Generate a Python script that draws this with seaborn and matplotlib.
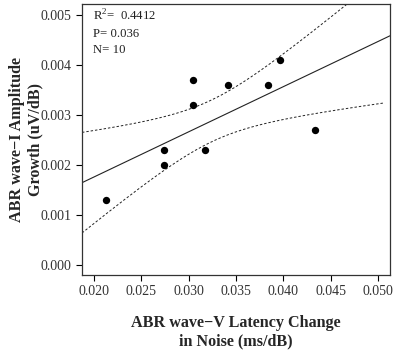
import numpy as np
import pandas as pd
import matplotlib
matplotlib.use("Agg")
import matplotlib.pyplot as plt
import seaborn as sns

latency_change = [0.02127, 0.02739, 0.02739, 0.03045, 0.03045, 0.03168, 0.03414, 0.0384, 0.03963, 0.04332]
amp_growth = [0.0013, 0.0023, 0.0020, 0.0037, 0.0032, 0.0023, 0.0036, 0.0036, 0.0041, 0.0027]
x_ticks = [0.020, 0.025, 0.030, 0.035, 0.040, 0.045, 0.050]
y_ticks = [0.000, 0.001, 0.002, 0.003, 0.004, 0.005]
stats_text = "R$^2$=  0.4412\nP= 0.036\nN= 10"

sns.set_style("ticks")
plt.rcParams['font.family'] = ['Liberation Serif', 'DejaVu Serif']
plt.rcParams['mathtext.fontset'] = 'custom'
plt.rcParams['mathtext.rm'] = 'Liberation Serif'

df = pd.DataFrame({"x": latency_change, "y": amp_growth})

fig = plt.figure(figsize=(3.93, 3.51), dpi=100)
ax = fig.add_axes([0.2087, 0.2165, 0.7837, 0.7721])

xlim = (0.01873, 0.05125)
ylim = (-0.000206, 0.00522)
ax.set_xlim(*xlim)
ax.set_ylim(*ylim)

sns.regplot(data=df, x="x", y="y", ax=ax, ci=None, truncate=False,
            scatter_kws=dict(s=28, color="black", linewidths=0, alpha=1, zorder=3),
            line_kws=dict(color="#222222", lw=0.8))

# 90% confidence band for the mean, drawn dashed
x = np.asarray(latency_change)
y = np.asarray(amp_growth)
n = len(x)
b1, b0 = np.polyfit(x, y, 1)
resid = y - (b0 + b1 * x)
s = np.sqrt(np.sum(resid ** 2) / (n - 2))
sxx = np.sum((x - x.mean()) ** 2)
t = 1.860
xs = np.linspace(xlim[0], 0.0505, 200)
half = t * s * np.sqrt(1 / n + (xs - x.mean()) ** 2 / sxx)
yhat = b0 + b1 * xs
ax.plot(xs, yhat + half, ls=(0, (2.5, 2)), color="#222222", lw=0.7)
ax.plot(xs, yhat - half, ls=(0, (2.5, 2)), color="#222222", lw=0.7)

ax.set_xlim(*xlim)
ax.set_ylim(*ylim)
ax.set_xticks(x_ticks)
ax.set_xticklabels([f"{v:.3f}" for v in x_ticks])
ax.set_yticks(y_ticks)
ax.set_yticklabels([f"{v:.3f}" for v in y_ticks])
ax.tick_params(labelsize=10, length=4, width=0.8, color="black", labelcolor="#333333")
for sp in ax.spines.values():
    sp.set_visible(True)
    sp.set_linewidth(0.9)
    sp.set_color("#333333")

ax.set_xlabel("ABR wave\u2212V Latency Change\nin Noise (ms/dB)", fontsize=11.6,
              fontweight="bold", labelpad=12, linespacing=1.2)
ax.set_ylabel("ABR wave\u2212I Amplitude\nGrowth (uV/dB)", fontsize=11.6,
              fontweight="bold", labelpad=-2, linespacing=1.2)

ax.text(0.035, 0.985, stats_text, transform=ax.transAxes, ha="left", va="top",
        fontsize=9.2, linespacing=1.5, color="#222222")

fig.savefig("out.png", dpi=100)
